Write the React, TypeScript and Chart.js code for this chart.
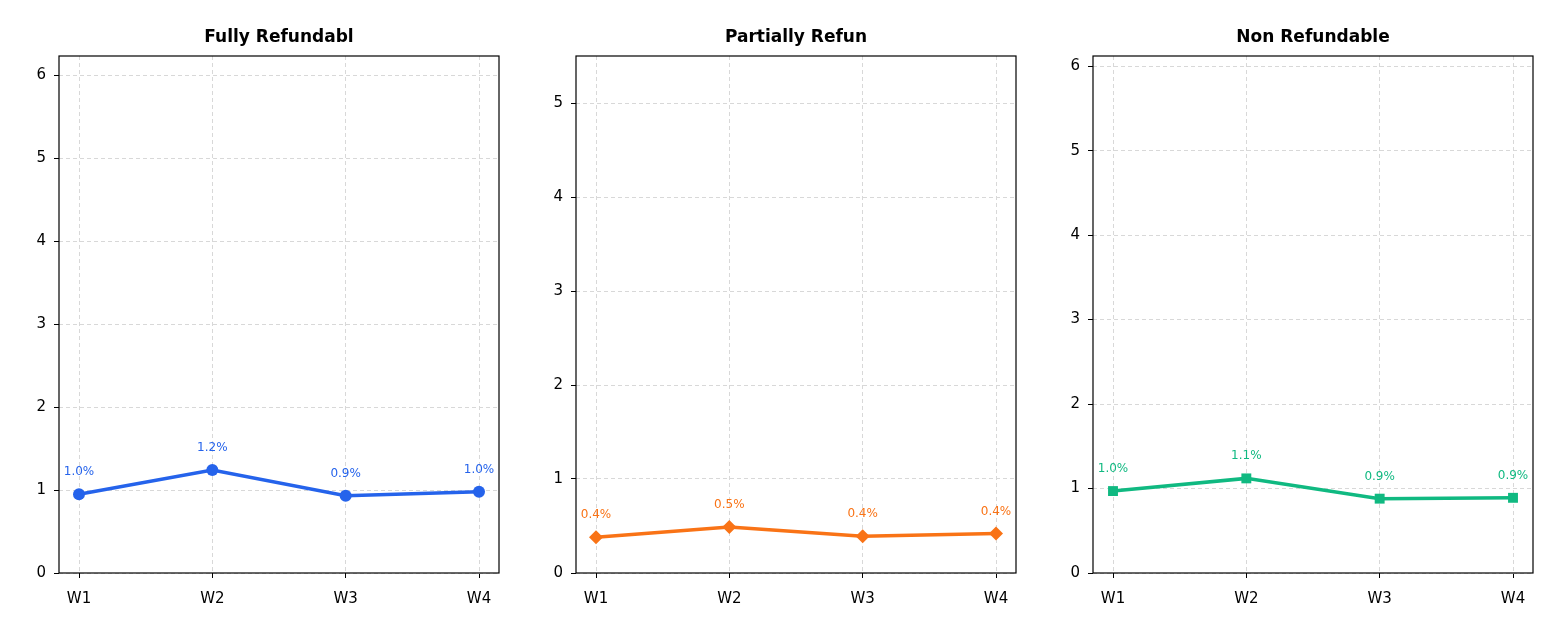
import { useEffect, useRef } from "react"
import { Chart, registerables } from "chart.js"

Chart.register(...registerables)

const weeks = ["W1", "W2", "W3", "W4"]
const titles = ["Fully Refundabl", "Partially Refun", "Non Refundable"]
const fullyValues = [0.95, 1.24, 0.93, 0.98]
const partialValues = [0.38, 0.49, 0.39, 0.42]
const nonValues = [0.97, 1.12, 0.88, 0.89]
const fullyLabels = ["1.0%", "1.2%", "0.9%", "1.0%"]
const partialLabels = ["0.4%", "0.5%", "0.4%", "0.4%"]
const nonLabels = ["1.0%", "1.1%", "0.9%", "0.9%"]
const yMaxes = [6.23, 5.5, 6.12]
const yTicks = [
  [0, 1, 2, 3, 4, 5, 6],
  [0, 1, 2, 3, 4, 5],
  [0, 1, 2, 3, 4, 5, 6],
]

const colors = ["#2563eb", "#f97316", "#10b981"]
const markers = ["circle", "rectRot", "rect"]
const plotLefts = [59, 576, 1093]
const FONT = "'DejaVu Sans', sans-serif"

function Panel({ idx, values, labels }: { idx: number; values: number[]; labels: string[] }) {
  const ref = useRef<HTMLCanvasElement>(null)
  useEffect(() => {
    if (!ref.current) return
    const color = colors[idx]
    const overlay = {
      id: "overlay",
      afterDraw(chart: any) {
        const { ctx, chartArea: a } = chart
        ctx.save()
        ctx.strokeStyle = "#000"
        ctx.lineWidth = 1.2
        ctx.strokeRect(a.left, a.top, a.right - a.left, a.bottom - a.top)
        ctx.fillStyle = "#000"
        ctx.font = `bold 17px ${FONT}`
        ctx.textAlign = "center"
        ctx.textBaseline = "alphabetic"
        ctx.fillText(titles[idx], (a.left + a.right) / 2, 42)
        ctx.font = `12px ${FONT}`
        ctx.fillStyle = color
        const meta = chart.getDatasetMeta(0)
        meta.data.forEach((p: any, i: number) => {
          ctx.fillText(labels[i], p.x, p.y - 19)
        })
        ctx.restore()
      },
    }
    const chart = new Chart(ref.current, {
      type: "line",
      data: {
        datasets: [
          {
            data: values.map((v, i) => ({ x: i, y: v })),
            borderColor: color,
            backgroundColor: color,
            borderWidth: 3.5,
            pointStyle: markers[idx] as any,
            pointRadius: idx === 0 ? 6 : 7,
            pointBackgroundColor: color,
            pointBorderWidth: 0,
            tension: 0,
          },
        ],
      },
      options: {
        animation: false,
        responsive: false,
        layout: { padding: { top: 56, right: 25, left: 0, bottom: 0 } },
        plugins: { legend: { display: false }, tooltip: { enabled: false } },
        scales: {
          x: {
            type: "linear",
            min: -0.15,
            max: 3.15,
            afterBuildTicks: (s: any) => {
              s.ticks = weeks.map((_, i) => ({ value: i }))
            },
            afterFit: (s: any) => {
              s.height = 67
            },
            ticks: {
              callback: (v: any) => weeks[v] ?? "",
              color: "#000",
              font: { family: FONT, size: 15 },
              padding: 12,
              maxRotation: 0,
            },
            grid: { color: "#d8d8d8", tickColor: "#000", tickLength: 5, tickBorderDash: [] },
            border: { display: false, dash: [4, 3] },
          },
          y: {
            min: 0,
            max: yMaxes[idx],
            afterBuildTicks: (s: any) => {
              s.ticks = yTicks[idx].map((v) => ({ value: v }))
            },
            afterFit: (s: any) => {
              s.width = 50
            },
            ticks: {
              color: "#000",
              font: { family: FONT, size: 15 },
              padding: 8,
            },
            grid: { color: "#d8d8d8", tickColor: "#000", tickLength: 5, tickBorderDash: [] },
            border: { display: false, dash: [4, 3] },
          },
        },
      },
      plugins: [overlay],
    })
    return () => chart.destroy()
  }, [])
  return (
    <canvas
      ref={ref}
      width={515}
      height={640}
      style={{ position: "absolute", top: 0, left: plotLefts[idx] - 50, width: 515, height: 640 }}
    />
  )
}

export default function App() {
  return (
    <div style={{ position: "absolute", top: 0, left: 0, width: 1558, height: 640, background: "#fff" }}>
      <Panel idx={0} values={fullyValues} labels={fullyLabels} />
      <Panel idx={1} values={partialValues} labels={partialLabels} />
      <Panel idx={2} values={nonValues} labels={nonLabels} />
    </div>
  )
}
